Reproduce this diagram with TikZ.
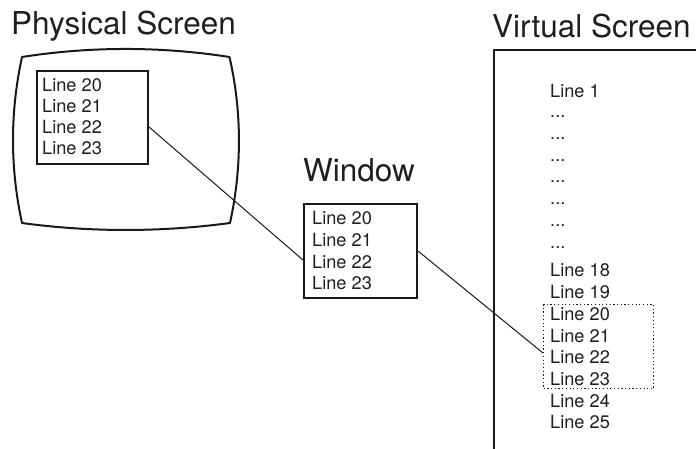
\documentclass[tikz,border=0pt]{standalone}
\usepackage{fontspec}
\setmainfont{TeX Gyre Heros}
\begin{document}
\begin{tikzpicture}[x=1pt,y=-1pt,
  title/.style={anchor=base west,inner sep=0pt,font=\fontsize{31.5}{36}\selectfont,text=black!88},
  ln/.style={anchor=base west,inner sep=0pt,font=\fontsize{18.2}{21.5}\selectfont,text=black!88},
  box/.style={draw=black!90,line width=2pt,rectangle,inner sep=0pt,anchor=north west},
  dotbox/.style={draw=black!90,line width=1.2pt,dash pattern=on 1.2pt off 2.5pt,rectangle,inner sep=0pt,anchor=north west},
  conn/.style={draw=black!90,line width=1pt}]
\useasboundingbox (0,0) rectangle (696,449);
% titles
\node[title] (tphys) at (11,35) {Physical Screen};
\node[title] (twin) at (303,182) {Window};
\node[title] (tvirt) at (492,38) {Virtual Screen};
% physical screen outline
\draw[black!90,line width=2pt,line join=round]
  (22,57) .. controls (90,46.3) and (161,46.3) .. (229.5,57)
  .. controls (242,112) and (242,168) .. (230,223)
  .. controls (161,232.3) and (90,232.3) .. (22,223)
  .. controls (10,168) and (10,112) .. (22,57) -- cycle;
% inner box
\node[box,minimum width=111pt,minimum height=93pt] (pbox) at (36,70) {};
\node[ln] (p20) at (42,92) {Line 20};
\node[ln] (p21) at (42,113) {Line 21};
\node[ln] (p22) at (42,134) {Line 22};
\node[ln] (p23) at (42,155) {Line 23};
% window
\node[box,minimum width=113pt,minimum height=94pt] (wbox) at (303,203) {};
\node[ln] (w20) at (312,225) {Line 20};
\node[ln] (w21) at (312,246.5) {Line 21};
\node[ln] (w22) at (312,268) {Line 22};
\node[ln] (w23) at (312,289) {Line 23};
% virtual screen
\coordinate (vtr) at (696,50);
\coordinate (vtl) at (494,50);
\coordinate (vbl) at (494,449);
\draw[black!90,line width=2.7pt] (vtr) -- (vtl) -- (vbl);
\node[ln] (v1) at (550,97.5) {Line 1};
\node[ln] (d1) at (550,118) {...};
\node[ln] (d2) at (550,140) {...};
\node[ln] (d3) at (550,162) {...};
\node[ln] (d4) at (550,183) {...};
\node[ln] (d5) at (550,205) {...};
\node[ln] (d6) at (550,226) {...};
\node[ln] (d7) at (550,248) {...};
\node[ln] (v18) at (550,276) {Line 18};
\node[ln] (v19) at (550,298) {Line 19};
\node[ln] (v20) at (550,320) {Line 20};
\node[ln] (v21) at (550,342) {Line 21};
\node[ln] (v22) at (550,363) {Line 22};
\node[ln] (v23) at (550,385) {Line 23};
\node[ln] (v24) at (550,407) {Line 24};
\node[ln] (v25) at (550,428) {Line 25};
\node[dotbox,minimum width=110pt,minimum height=84pt] (vbox) at (543,304) {};
% connectors
\coordinate (c1s) at (pbox.east |- 0,127);
\coordinate (c1e) at (wbox.west |- 0,260);
\coordinate (c2e) at (vbox.west |- 0,353);
\draw[conn] (c1s) -- (c1e);
\draw[conn] (wbox.east) -- (c2e);
\end{tikzpicture}
\end{document}
